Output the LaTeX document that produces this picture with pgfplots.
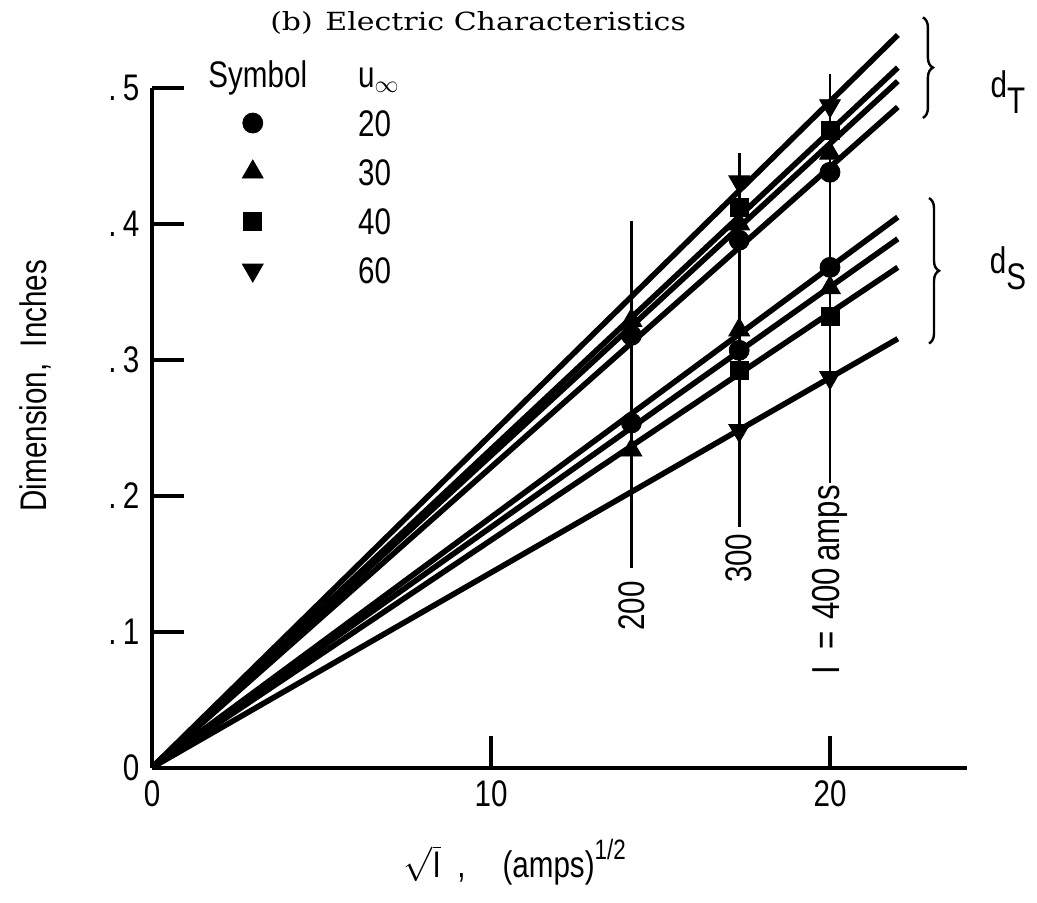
\documentclass[border=0pt]{standalone}
\usepackage{fontspec}
\setmainfont{Liberation Sans}[FakeStretch=0.8]
\newfontfamily\titlefont{DejaVu Serif}[FakeStretch=1.2]
\usepackage{pgfplots}
\pgfplotsset{compat=1.18}
\usetikzlibrary{decorations.pathreplacing}
\begin{document}
\fontsize{18.5}{22}\selectfont
\begin{tikzpicture}
\begin{axis}[
  x=16.95pt, y=679.5pt,
  xmin=0, xmax=24.05, ymin=0, ymax=0.5,
  axis x line=bottom, axis y line=left,
  axis line style={line width=2pt, -},
  every tick/.style={line width=2pt, black},
  major tick length=16pt,
  tick align=inside,
  xtick={0,10,20}, xticklabels={0,10,20},
  ytick={0,0.1,0.2,0.3,0.4,0.5},
  yticklabels={0,.\,1,.\,2,.\,3,.\,4,.\,5},
  /pgf/number format/assume math mode=true,
  tick label style={font=\fontsize{18.5}{22}\selectfont},
  clip=false,
  title={(b)\enspace Electric Characteristics},
  title style={at={(axis description cs:0.4,1.096)}, anchor=center, yshift=-6pt, font=\titlefont\fontsize{12.5}{14}\selectfont},
  xlabel={$\sqrt{\mbox{I}}$\ \ ,\quad (amps)\raisebox{9pt}{\fontsize{14}{14}\selectfont 1/2}},
  x label style={at={(axis description cs:0.445,-0.14)}, anchor=center},
  ylabel={Dimension,\ \ Inches},
  y label style={at={(axis description cs:-0.1435,0.562)}, anchor=center},
  legend image code/.code={\draw[#1] plot coordinates {(0pt,0pt)}; \path (-25pt,-4pt) (25pt,4pt);},
  legend cell align=left,
  legend style={at={(0.0613,1.041)}, anchor=north west, draw=none, fill=none, inner sep=0pt,
    row sep=11pt, column sep=25.5pt,
    nodes={inner sep=0pt, text height=13.5pt, text depth=0pt}},
]
% fitted lines, d_T group
\addplot[line width=2.8pt, forget plot] coordinates {(0,0) (22,0.539)};
\addplot[line width=2.8pt, forget plot] coordinates {(0,0) (22,0.515)};
\addplot[line width=2.8pt, forget plot] coordinates {(0,0) (22,0.505)};
\addplot[line width=2.8pt, forget plot] coordinates {(0,0) (22,0.486)};
% fitted lines, d_S group
\addplot[line width=2.8pt, forget plot] coordinates {(0,0) (22,0.405)};
\addplot[line width=2.8pt, forget plot] coordinates {(0,0) (22,0.389)};
\addplot[line width=2.8pt, forget plot] coordinates {(0,0) (22,0.368)};
\addplot[line width=2.8pt, forget plot] coordinates {(0,0) (22,0.3155)};
% current lines
\addplot[line width=1.4pt, forget plot] coordinates {(14.142,0.402) (14.142,0.147)};
\addplot[line width=1.4pt, forget plot] coordinates {(17.321,0.452) (17.321,0.177)};
\addplot[line width=1.4pt, forget plot] coordinates {(20,0.51) (20,0.209)};
% legend header
\addlegendimage{legend image code/.code={\node[inner sep=0pt, anchor=center, text height=13.5pt, text depth=0pt] at (2.5pt,0pt) {Symbol};}}
\addlegendentry{u$_{\infty}$}
% data
\addplot[only marks, mark=*, mark size=5pt, black] coordinates {
  (14.142,0.318) (17.321,0.388) (20,0.438)
  (14.142,0.2535) (17.321,0.307) (20,0.368)};
\addlegendentry{20}
\addplot[only marks, mark=triangle*, mark size=6pt, black] coordinates {
  (14.142,0.329) (17.321,0.400) (20,0.452)
  (14.142,0.2336) (17.321,0.322) (20,0.353)};
\addlegendentry{30}
\addplot[only marks, mark=square*, mark size=4.5pt, black] coordinates {
  (17.321,0.412) (20,0.469)
  (17.321,0.2925) (20,0.332)};
\addlegendentry{40}
\addplot[only marks, mark=triangle*, mark size=6pt, mark options={rotate=180}, black] coordinates {
  (17.321,0.431) (20,0.487)
  (17.321,0.248) (20,0.287)};
\addlegendentry{60}
% annotations
\node[rotate=90] at (axis cs:14.142,0.119) {200};
\node[rotate=90] at (axis cs:17.321,0.154) {300};
\node[rotate=90, font=\fontsize{19.5}{22}\selectfont] at (axis cs:20,0.138) {I\hspace{8pt}=\hspace{6pt}400\hspace{3pt}amps};
\draw[line width=1.2pt, decorate, decoration={brace, amplitude=5pt}] (axis cs:22.74,0.552) -- (axis cs:22.74,0.478);
\draw[line width=1.2pt, decorate, decoration={brace, amplitude=5pt}] (axis cs:22.92,0.419) -- (axis cs:22.92,0.312);
\node at (axis cs:25.25,0.497) {d\raisebox{-8pt}{T}};
\node at (axis cs:25.25,0.367) {d\raisebox{-8pt}{S}};
\coordinate (O) at (axis cs:0,0);
\end{axis}
\pgfresetboundingbox
\path[use as bounding box] (O) ++(-76pt,-67.25pt) rectangle ++(518.5pt,451pt);
\end{tikzpicture}
\end{document}
